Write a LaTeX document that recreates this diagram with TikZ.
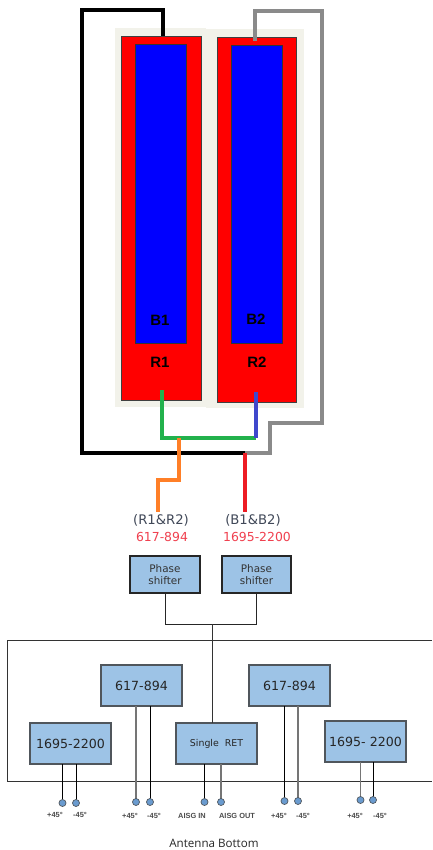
\documentclass[tikz,border=0pt]{standalone}
\usepackage{fontspec}
\setmainfont{DejaVu Sans}
\newfontfamily\arialfont{Liberation Sans}
\newfontfamily\labelfont{Open Sans}
\definecolor{beige}{HTML}{F2F2EA}
\definecolor{boxblue}{HTML}{9DC3E6}
\definecolor{dotblue}{HTML}{6A9BCF}
\definecolor{wgray}{HTML}{8A8A8A}
\definecolor{wgreen}{HTML}{22B14C}
\definecolor{windigo}{HTML}{3F48CC}
\definecolor{worange}{HTML}{FF7F27}
\definecolor{wred}{HTML}{ED1C24}
\definecolor{txtred}{HTML}{F0404F}
\definecolor{txtgray}{HTML}{404858}
\definecolor{edgegray}{HTML}{50565C}
\tikzset{
  x=1pt,y=-1pt,
  place/.style={anchor=north west,inner sep=0pt,outer sep=0pt},
  bgpanel/.style={place,fill=beige},
  redpanel/.style={place,fill=red,draw=black!75,line width=0.7pt},
  bluepanel/.style={place,fill=blue,draw=black!80,line width=0.7pt},
  wire/.style={line width=3.2pt,line join=miter},
  bandbox/.style={place,fill=boxblue,draw=edgegray,line width=1.1pt,font=\fontsize{12.6}{15}\selectfont,text=black!85,align=center},
  phasebox/.style={place,fill=boxblue,draw=black!85,line width=1.1pt,font=\fontsize{10.4}{12}\selectfont,text=black!80,align=center},
  portdot/.style={circle,fill=dotblue,draw=edgegray,line width=0.7pt,minimum size=7pt,inner sep=0pt},
  lead/.style={line width=0.9pt,black},
  leadgray/.style={line width=1.3pt,wgray!85!black},
  portlabel/.style={font=\fontsize{7.4}{9}\selectfont\arialfont\bfseries,text=black!70,inner sep=0pt},
  ant/.style={font=\fontsize{15}{17}\arialfont\bfseries\selectfont,text=black,inner sep=0pt}
}
\begin{document}
\begin{tikzpicture}
\useasboundingbox (0,0) rectangle (432,850);
\fill[white] (0,0) rectangle (432,850);
% panels
\node[bgpanel,minimum width=91pt,minimum height=379pt] (bg1) at (115,28) {};
\node[bgpanel,minimum width=98pt,minimum height=379pt] (bg2) at (206,29) {};
\node[redpanel,minimum width=80pt,minimum height=364pt] (r1) at (121,36) {};
\node[redpanel,minimum width=79pt,minimum height=365pt] (r2) at (217,37) {};
\node[bluepanel,minimum width=51pt,minimum height=299pt] (b1) at (135,44) {};
\node[bluepanel,minimum width=51pt,minimum height=298pt] (b2) at (231,45) {};
\node[ant] (tb1) at (160,320) {B1};
\node[ant] (tb2) at (256,319) {B2};
\node[ant] (tr1) at (160,362) {R1};
\node[ant] (tr2) at (257,362) {R2};
% feed coordinates
\coordinate (r1top) at (163,36);
\coordinate (r2top) at (255,41);
\coordinate (r1feed) at (162,390);
\coordinate (r2feed) at (256,392);
\coordinate (blackend) at (245,453);
\coordinate (greenj) at (179,438);
% wires
\draw[wire,wgray] (r2top) |- (322,11) |- (270,423) |- (blackend);
\draw[wire,black] (r1top) |- (82,10) |- (blackend);
\draw[wire,wgreen] (r1feed) |- (r2feed |- greenj);
\draw[wire,windigo] (r2feed) -- (r2feed |- greenj);
% labels
\node[inner sep=0pt,font=\fontsize{13.2}{15}\selectfont,text=txtgray] (lr) at (161,520) {(R1\&R2)};
\node[inner sep=0pt,font=\fontsize{13.2}{15}\selectfont,text=txtgray] (lb) at (253,520) {(B1\&B2)};
\node[inner sep=0pt,font=\fontsize{12.4}{15}\selectfont,text=txtred] (fr) at (162,537) {617-894};
\node[inner sep=0pt,font=\fontsize{12.4}{15}\selectfont,text=txtred] (fb) at (257,537) {1695-2200};
\coordinate (orangeend) at (158,512);
\coordinate (redend) at (245,512);
\draw[wire,worange] (greenj) |- (158,480) -- (orangeend);
\draw[wire,wred] (blackend) -- (redend);
% enclosure
\coordinate (encTL) at (7,640);
\coordinate (encTR) at (432,640);
\coordinate (encBL) at (7,781);
\coordinate (encBR) at (432,781);
\draw[line width=0.9pt,black!80] (encTR) -- (encTL) -- (encBL) -- (encBR);
% phase shifters
\node[phasebox,minimum width=70pt,minimum height=37pt] (ps1) at (130,556) {Phase\\shifter};
\node[phasebox,minimum width=69pt,minimum height=37pt] (ps2) at (222,556) {Phase\\shifter};
% boxes
\node[bandbox,minimum width=81pt,minimum height=41pt] (b617l) at (101,665) {617-894};
\node[bandbox,minimum width=81pt,minimum height=41pt] (b1695l) at (30,723) {1695-2200};
\node[bandbox,minimum width=81pt,minimum height=41pt,font=\fontsize{9.4}{11.5}\selectfont] (ret) at (176,723) {Single\ \ RET};
\node[bandbox,minimum width=81pt,minimum height=41pt] (b617r) at (249,665) {617-894};
\node[bandbox,minimum width=81pt,minimum height=41pt] (b1695r) at (325,721) {1695- 2200};
% bus
\coordinate (busj) at (212,624);
\draw[line width=1pt,black!85] (ps1.south) |- (ps2.south |- busj) -- (ps2.south);
\draw[line width=0.9pt,black!80] (busj) -- (busj |- ret.north);
% ports
\coordinate (pa) at (62.5,803);
\coordinate (pb) at (76,803);
\coordinate (pc) at (136,802);
\coordinate (pd) at (150,802);
\coordinate (pe) at (204.5,802);
\coordinate (pf) at (221,802);
\coordinate (pg) at (284.5,801);
\coordinate (ph) at (298,801);
\coordinate (pi) at (360.5,800);
\coordinate (pj) at (373,800);
\draw[lead] (pa |- b1695l.south) -- (pa);
\draw[lead] (pb |- b1695l.south) -- (pb);
\draw[leadgray] (pc |- b617l.south) -- (pc);
\draw[lead] (pd |- b617l.south) -- (pd);
\draw[lead] (pe |- ret.south) -- (pe);
\draw[leadgray] (pf |- ret.south) -- (pf);
\draw[lead] (pg |- b617r.south) -- (pg);
\draw[leadgray] (ph |- b617r.south) -- (ph);
\draw[leadgray] (pi |- b1695r.south) -- (pi);
\draw[lead] (pj |- b1695r.south) -- (pj);
\foreach \n in {a,b,c,d,e,f,g,h,i,j}
  \node[portdot] (dot\n) at (p\n) {};
\foreach \n/\x/\y/\t in {1/55/815/+45°,2/80/815/-45°,3/130/816/+45°,4/154/816/-45°,5/192/816/AISG IN,6/237/816/AISG OUT,7/279/816/+45°,8/303/816/-45°,9/355/816/+45°,10/380/816/-45°}
  \node[portlabel] (l\n) at (\x,\y) {\t};
\node[inner sep=0pt,font=\fontsize{11.6}{14}\selectfont\labelfont,text=black!85] (title) at (214,843) {Antenna Bottom};
\end{tikzpicture}
\end{document}
